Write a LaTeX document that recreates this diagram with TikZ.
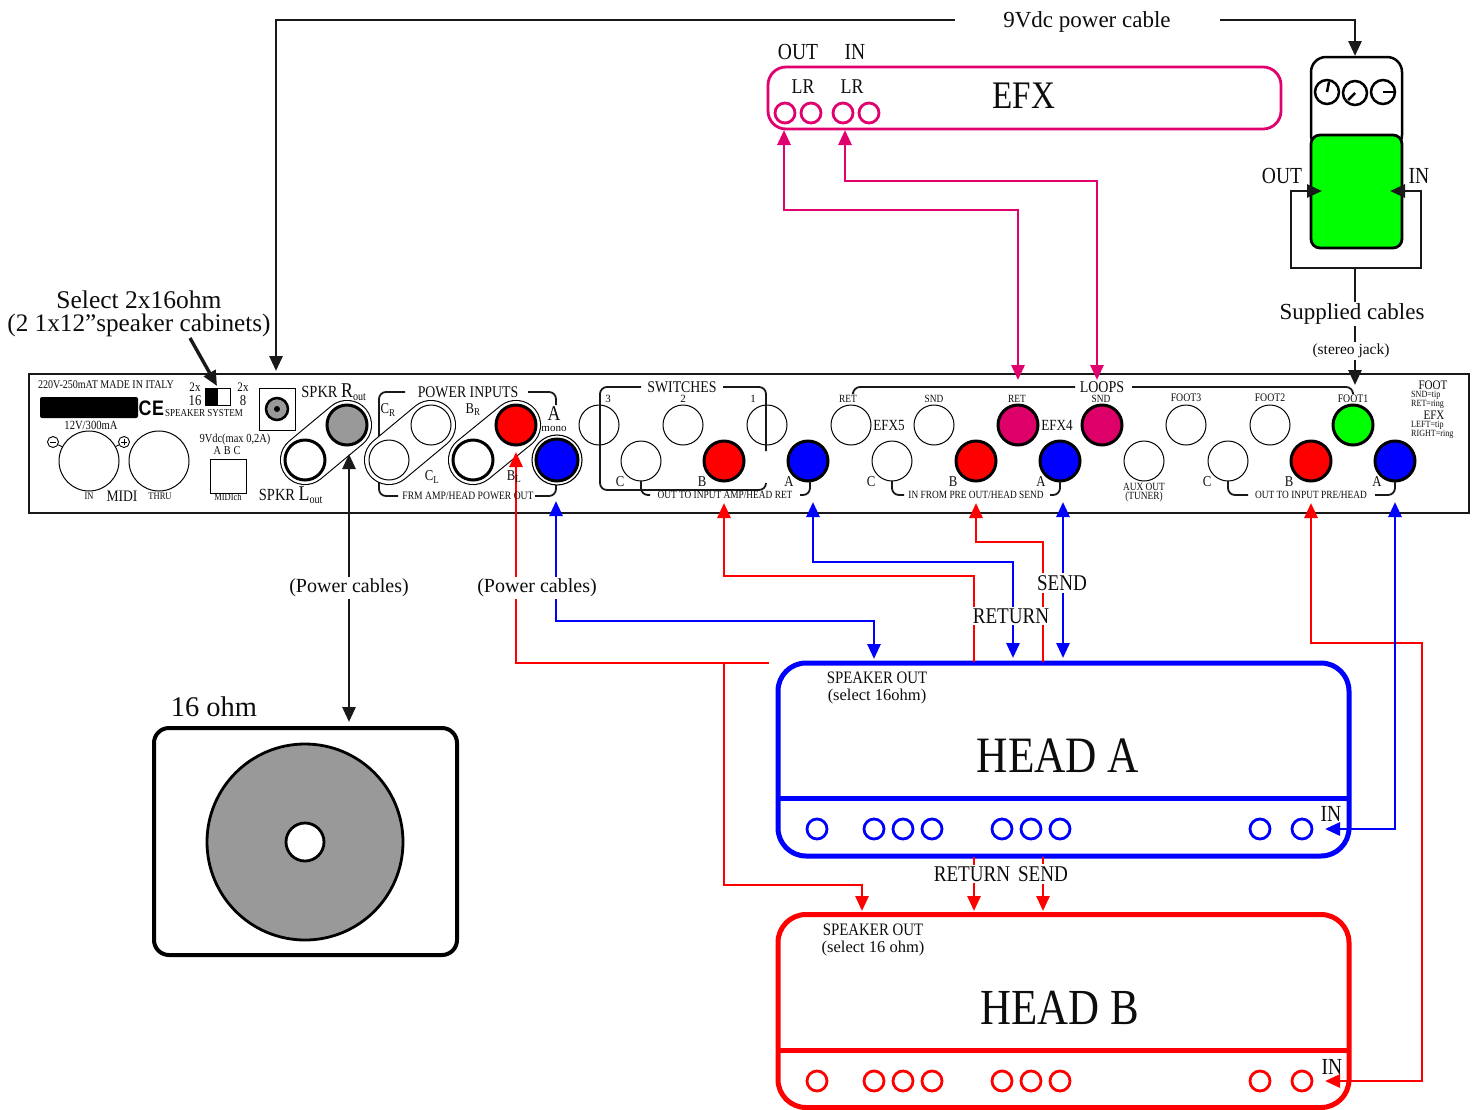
\documentclass[tikz,border=0pt]{standalone}
\usepackage{fontspec}
\setmainfont{Liberation Serif}
\newfontfamily\condfont[FakeStretch=0.85]{Liberation Serif}
\newfontfamily\condsans[FakeStretch=0.85]{Liberation Sans}
\usepackage{tikz}
\usetikzlibrary{arrows.meta}

\definecolor{efxpink}{RGB}{224,0,110}
\definecolor{jackpink}{RGB}{220,0,104}
\definecolor{speakergray}{RGB}{153,153,153}

\begin{document}
\begin{tikzpicture}[x=1pt,y=-1pt]
\tikzset{>={Triangle[length=15pt,width=13pt]}}
\tikzset{txt/.style={font=\fontsize{#1}{#1}\selectfont,inner sep=0pt,text=black!95}}
\tikzset{ctxt/.style={font=\condfont\fontsize{#1}{#1}\selectfont,inner sep=0pt,text=black!95}}
\tikzset{cut/.style={fill=white,inner sep=2pt}}
\tikzset{jack/.style={circle,draw=black,fill=white,line width=1pt,inner sep=0pt,minimum size=40pt}}
\tikzset{hotjack/.style={jack,line width=3pt,fill=#1}}
\tikzset{headjack/.style={circle,draw=#1,fill=white,line width=2.8pt,inner sep=0pt,minimum size=20pt}}
\tikzset{cord/.style={line width=2.8pt,black!90}}
\tikzset{bluecord/.style={line width=2.8pt,blue}}
\tikzset{redcord/.style={line width=2.8pt,red}}
\tikzset{pinkcord/.style={line width=2.8pt,efxpink}}
\tikzset{brace/.style={line width=1.8pt,black!90,rounded corners=7pt}}
\tikzset{pill/.style={line width=1.1pt,double=white,double distance=48pt,line cap=round}}
\tikzset{headbox/.style={draw=#1,rounded corners=28pt,line width=5pt,inner sep=0pt,minimum width=571pt,minimum height=193pt}}
\useasboundingbox (0,0) rectangle (1478,1109);

\draw[line width=2.5pt,black!90] (29,374) rectangle (1469,513);

\coordinate (dcTip) at (276,371);
\coordinate (pwrL) at (955,20);
\coordinate (pwrR) at (1220,20);
\coordinate (pedTop) at (1355,56);
\coordinate (pedJoint) at (1355,268);
\coordinate (pedOut) at (1322,191);
\coordinate (pedIn) at (1390,191);
\coordinate (footTip) at (1355,385);
\coordinate (selTail) at (190,338);
\coordinate (selTip) at (217,386);
\coordinate (cabTop) at (349,722);
\coordinate (spkTip) at (349,454);
\coordinate (efxOut) at (784,130);
\coordinate (efxIn) at (845,130);
\coordinate (loopRet) at (1018,380);
\coordinate (loopSnd) at (1097,380);

\coordinate (mainB) at (516,452);
\coordinate (mainA) at (556,501);
\coordinate (retB) at (724,503);
\coordinate (retA) at (813,502);
\coordinate (sndB) at (976,503);
\coordinate (sndA) at (1063,502);
\coordinate (inB) at (1311,503);
\coordinate (inA) at (1395,502);

\coordinate (aRedOut) at (769,663);
\coordinate (aSpk) at (874,659);
\coordinate (aRedRet) at (974,662);
\coordinate (aRet) at (1013,658);
\coordinate (aRedSnd) at (1043,662);
\coordinate (aSnd) at (1063,658);
\coordinate (aIn) at (1325,829);
\coordinate (abRet) at (974,857);
\coordinate (abSnd) at (1043,857);
\coordinate (bSpk) at (862,911);
\coordinate (bRet) at (974,911);
\coordinate (bSnd) at (1043,911);
\coordinate (bIn) at (1325,1081);
\coordinate (bTap) at (724,663);

\draw[brace] (405,392) -- (379,392) -- (379,496) -- (398,496);
\draw[brace] (528,392) -- (556,392) -- (556,405);
\draw[brace] (535,496) -- (556,496) -- (556,484);

\draw[pill] (305,460) -- (347,425);
\draw[pill] (389,460) -- (431,425);
\draw[pill] (473,460) -- (516,425);
\draw[line width=1.1pt,fill=white] (557,460) circle (25);

\node[jack,line width=3pt,fill=speakergray] (spkR) at (347,425) {};
\node[jack,line width=3pt] (spkL) at (305,460) {};
\node[jack] (pwrCR) at (431,425) {};
\node[jack] (pwrCL) at (389,460) {};
\node[hotjack=red] (pwrBR) at (516,425) {};
\node[jack,line width=3pt] (pwrBL) at (473,460) {};
\node[hotjack=blue,minimum size=42pt] (pwrA) at (557,460) {};

\node[jack] (sw3) at (599,425) {};
\node[jack] (sw2) at (683,425) {};
\node[jack] (sw1) at (767,425) {};
\node[jack] (swC) at (641,461) {};
\node[hotjack=red] (swB) at (724,461) {};
\node[hotjack=blue] (swA) at (808,461) {};

\node[jack] (efx5ret) at (851,425) {};
\node[jack] (efx5snd) at (934,425) {};
\node[hotjack=jackpink] (efx4ret) at (1018,425) {};
\node[hotjack=jackpink] (efx4snd) at (1102,425) {};
\node[jack] (sendC) at (892,461) {};
\node[hotjack=red] (sendB) at (976,461) {};
\node[hotjack=blue] (sendA) at (1060,461) {};

\node[jack] (aux) at (1144,461) {};
\node[jack] (foot3) at (1186,425) {};
\node[jack] (foot2) at (1270,425) {};
\node[hotjack=green] (foot1) at (1353,425) {};
\node[jack] (preC) at (1228,461) {};
\node[hotjack=red] (preB) at (1311,461) {};
\node[hotjack=blue] (preA) at (1395,461) {};

\node[jack,minimum size=60pt] (xlrIn) at (89,461) {};
\node[jack,minimum size=60pt] (xlrThru) at (159,461) {};
\node[circle,draw,line width=0.9pt,inner sep=0pt,minimum size=11pt] (minus) at (53,442) {};
\node[circle,draw,line width=0.9pt,inner sep=0pt,minimum size=11pt] (plus) at (124,442) {};
\draw[line width=0.9pt] (minus) -- (xlrIn);
\draw[line width=0.9pt] (plus) -- (xlrIn);
\draw[line width=0.9pt] (50,442) -- (56,442);
\draw[line width=0.9pt] (121,442) -- (127,442) (124,439) -- (124,445);

\fill[black,rounded corners=2pt] (40,397) rectangle (138,418);
\draw[line width=1pt] (205,388) rectangle (230,405);
\fill[black] (205,388) rectangle (218,405);
\draw[line width=1pt] (259,388) rectangle (295,430);
\draw[line width=2.5pt,fill=speakergray] (277,409) circle (11);
\fill[black] (277,409) circle (3);
\draw[line width=1pt] (210,459) rectangle (246,493);

\draw[brace] (641,387) -- (600,387) -- (600,490) -- (766,490) -- (766,483);
\draw[brace] (723,387) -- (766,387) -- (766,451);
\draw[brace] (641,481) -- (641,495) -- (650,495);
\draw[brace] (800,495) -- (810,495) -- (810,481);
\draw[brace] (892,481) -- (892,495) -- (904,495);
\draw[brace] (1050,495) -- (1060,495) -- (1060,481);
\draw[brace] (1228,481) -- (1228,495) -- (1248,495);
\draw[brace] (1375,495) -- (1395,495) -- (1395,481);
\draw[brace] (853,392) -- (853,387) -- (1075,387);
\draw[brace] (1132,387) -- (1353,387) -- (1353,392);

\node[draw=efxpink,rounded corners=18pt,line width=2.8pt,inner sep=0pt,minimum width=513pt,minimum height=62pt] (efx) at (1024.5,98) {};
\node[headjack=efxpink] (efxL1) at (785,113) {};
\node[headjack=efxpink] (efxR1) at (811,113) {};
\node[headjack=efxpink] (efxL2) at (843,113) {};
\node[headjack=efxpink] (efxR2) at (869,113) {};

\draw[line width=2.5pt,rounded corners=15pt,fill=white] (1311,150) -- (1311,57) -- (1402,57) -- (1402,150) -- cycle;
\node[draw,fill=green,rounded corners=9pt,line width=2.8pt,inner sep=0pt,minimum width=91pt,minimum height=113pt] (pedal) at (1356.5,191.5) {};
\node[circle,draw,line width=2.5pt,inner sep=0pt,minimum size=24pt] (knobA) at (1327,92) {};
\node[circle,draw,line width=2.5pt,inner sep=0pt,minimum size=24pt] (knobB) at (1355,93) {};
\node[circle,draw,line width=2.5pt,inner sep=0pt,minimum size=24pt] (knobC) at (1383,92) {};
\draw[line width=2.5pt] (knobA.center) -- (1329,82);
\draw[line width=2.5pt] (knobB.center) -- (1348,100);
\draw[line width=2.5pt] (knobC.center) -- (knobC.east);

\node[headbox=blue] (headA) at (1063.5,759.5) {};
\draw[line width=5pt,blue] (778,798) -- (1349,798);
\node[headjack=blue] (a1) at (817,829) {};
\node[headjack=blue] (a2) at (874,829) {};
\node[headjack=blue] (a3) at (903,829) {};
\node[headjack=blue] (a4) at (932,829) {};
\node[headjack=blue] (a5) at (1002,829) {};
\node[headjack=blue] (a6) at (1031,829) {};
\node[headjack=blue] (a7) at (1060,829) {};
\node[headjack=blue] (a8) at (1260,829) {};
\node[headjack=blue] (a9) at (1302,829) {};

\node[headbox=red] (headB) at (1063.5,1011) {};
\draw[line width=5pt,red] (778,1050) -- (1349,1050);
\node[headjack=red] (b1) at (817,1081) {};
\node[headjack=red] (b2) at (874,1081) {};
\node[headjack=red] (b3) at (903,1081) {};
\node[headjack=red] (b4) at (932,1081) {};
\node[headjack=red] (b5) at (1002,1081) {};
\node[headjack=red] (b6) at (1031,1081) {};
\node[headjack=red] (b7) at (1060,1081) {};
\node[headjack=red] (b8) at (1260,1081) {};
\node[headjack=red] (b9) at (1302,1081) {};

\node[draw,rounded corners=15pt,line width=4pt,inner sep=0pt,minimum width=303pt,minimum height=227pt] (cab) at (305.5,841.5) {};
\node[circle,draw,fill=speakergray,line width=2.8pt,inner sep=0pt,minimum size=196pt] (cone) at (305,842) {};
\node[circle,draw,fill=white,line width=2.8pt,inner sep=0pt,minimum size=38pt] (hub) at (305,842) {};

\draw[cord,->] (pwrL) -| (dcTip);
\draw[cord,->] (pwrR) -| (pedTop);
\draw[cord,->] (pedJoint) -- (1291,268) |- (pedOut);
\draw[cord,->] (pedJoint) -- (1421,268) |- (pedIn);
\draw[cord,->] (pedJoint) -- (footTip);
\draw[line width=3.4pt,black!90,->] (selTail) -- (selTip);
\draw[cord,<->] (cabTop) -- (spkTip);
\draw[pinkcord,<->] (loopRet) |- (784,210) -- (efxOut);
\draw[pinkcord,<->] (loopSnd) |- (845,181) -- (efxIn);
\draw[redcord,->] (aRedOut) -- (516,663) -- (mainB);
\draw[redcord,->] (bTap) |- (862,885) -- (bSpk);
\draw[bluecord,<->] (mainA) |- (874,621) -- (aSpk);
\draw[redcord,->] (aRedRet) |- (724,576) -- (retB);
\draw[bluecord,<->] (retA) |- (1013,562) -- (aRet);
\draw[redcord,->] (aRedSnd) |- (976,542) -- (sndB);
\draw[bluecord,<->] (sndA) -- (aSnd);
\draw[redcord,->] (abRet) -- (bRet);
\draw[redcord,->] (abSnd) -- (bSnd);
\draw[redcord,<->] (inB) |- (1422,643) |- (bIn);
\draw[bluecord,<->] (inA) |- (aIn);

\node[txt=23,cut] (lblPower) at (1087,22) {9Vdc power cable};
\node[ctxt=23] (lblEfxOut) at (798,52) {OUT};
\node[ctxt=23] (lblEfxIn) at (855,52) {IN};
\node[ctxt=21] (lblLR1) at (803,87) {LR};
\node[ctxt=21] (lblLR2) at (852,87) {LR};
\node[ctxt=39] (lblEfx) at (1024,96) {EFX};
\node[ctxt=23] (lblPedOut) at (1282,176) {OUT};
\node[ctxt=23] (lblPedIn) at (1419,176) {IN};
\node[txt=23,cut] (lblSupplied) at (1352,314) {Supplied cables};
\node[txt=15.5,cut] (lblStereo) at (1351,351) {(stereo jack)};
\node[txt=25.5] (lblSelect) at (139,300) {Select 2x16ohm};
\node[txt=25.2] (lblCabs) at (139,325) {(2 1x12”speaker cabinets)};

\node[ctxt=11.8] (lblMade) at (106,385) {220V-250mAT MADE IN ITALY};
\node[font=\condsans\bfseries\fontsize{21}{21}\selectfont,inner sep=0pt] (lblC) at (145,408) {C};
\node[font=\condsans\bfseries\fontsize{21}{21}\selectfont,inner sep=0pt] (lblE) at (158,408) {E};
\node[ctxt=10.6] (lblSystem) at (204,413) {SPEAKER SYSTEM};
\node[ctxt=12.5] (lblVolt) at (91,425) {12V/300mA};
\node[ctxt=13] (lbl2xA) at (195,387) {2x};
\node[ctxt=15] (lbl16) at (195,401) {16};
\node[ctxt=13] (lbl2xB) at (243,387) {2x};
\node[ctxt=15] (lbl8) at (243,401) {8};
\node[ctxt=10] (lblXlrIn) at (89,496) {IN};
\node[ctxt=16] (lblMidi) at (122,496) {MIDI};
\node[ctxt=10] (lblThru) at (160,496) {THRU};
\node[ctxt=12.3] (lbl9V) at (235,440) {9Vdc(max 0,2A)};
\node[ctxt=12] (lblABC) at (227,451) {A\hspace{3pt}B\hspace{3pt}C};
\node[ctxt=10] (lblMidich) at (228,497) {MIDIch};
\node[ctxt=17] (lblSpkR) at (334,392) {SPKR {\fontsize{21}{21}\selectfont R}\textsubscript{out}};
\node[ctxt=17] (lblSpkL) at (291,495) {SPKR {\fontsize{21}{21}\selectfont L}\textsubscript{out}};

\node[ctxt=16.3] (lblPower2) at (468,392) {POWER INPUTS};
\node[ctxt=15] (lblCR) at (388,410) {C\textsubscript{R}};
\node[ctxt=15] (lblBR) at (473,410) {B\textsubscript{R}};
\node[ctxt=15] (lblCL) at (432,477) {C\textsubscript{L}};
\node[ctxt=15] (lblBL) at (514,477) {B\textsubscript{L}};
\node[ctxt=21] (lblMonoA) at (554,414) {A};
\node[txt=11] (lblMono) at (554,429) {mono};
\node[ctxt=11.3] (lblFrm) at (468,496) {FRM AMP/HEAD POWER OUT};

\node[ctxt=16.3] (lblSwitches) at (682,387) {SWITCHES};
\node[txt=11] (lblSw3) at (608,399) {3};
\node[txt=11] (lblSw2) at (683,399) {2};
\node[txt=11] (lblSw1) at (753,399) {1};
\node[ctxt=15] (lblSwC) at (620,482) {C};
\node[ctxt=15] (lblSwB) at (702,482) {B};
\node[ctxt=15] (lblSwA) at (789,482) {A};
\node[ctxt=11] (lblAmpRet) at (725,495) {OUT TO INPUT AMP/HEAD RET};

\node[ctxt=16.5,fill=white,inner sep=1pt] (lblLoops) at (1102,387) {LOOPS};
\node[ctxt=11] (lblRet5) at (848,399) {RET};
\node[ctxt=11] (lblSnd5) at (934,399) {SND};
\node[ctxt=11] (lblRet4) at (1017,399) {RET};
\node[ctxt=11] (lblSnd4) at (1101,399) {SND};
\node[ctxt=15.5] (lblEfx5) at (889,425) {EFX5};
\node[ctxt=15.5] (lblEfx4) at (1057,425) {EFX4};
\node[ctxt=15] (lblSendC) at (871,482) {C};
\node[ctxt=15] (lblSendB) at (953,482) {B};
\node[ctxt=15] (lblSendA) at (1041,482) {A};
\node[ctxt=11] (lblPreOut) at (976,495) {IN FROM PRE OUT/HEAD SEND};

\node[ctxt=11] (lblAux) at (1144,487) {AUX OUT};
\node[ctxt=11] (lblTuner) at (1144,497) {(TUNER)};
\node[ctxt=11.5] (lblFoot3) at (1186,398) {FOOT3};
\node[ctxt=11.5] (lblFoot2) at (1270,398) {FOOT2};
\node[ctxt=11.5] (lblFoot1) at (1353,399) {FOOT1};
\node[ctxt=15] (lblPreC) at (1207,482) {C};
\node[ctxt=15] (lblPreB) at (1289,482) {B};
\node[ctxt=15] (lblPreA) at (1377,482) {A};
\node[ctxt=11] (lblPreHead) at (1311,495) {OUT TO INPUT PRE/HEAD};

\node[ctxt=13] (lblFoot) at (1433,385) {FOOT};
\node[ctxt=9.5,anchor=west] (lblSndTip) at (1411,395) {SND=tip};
\node[ctxt=9.5,anchor=west] (lblRetRing) at (1411,404) {RET=ring};
\node[ctxt=13] (lblEfxNote) at (1434,415) {EFX};
\node[ctxt=9.5,anchor=west] (lblLeft) at (1411,425) {LEFT=tip};
\node[ctxt=9.5,anchor=west] (lblRight) at (1411,434) {RIGHT=ring};

\node[txt=20,cut] (lblCables1) at (349,588) {(Power cables)};
\node[txt=20,cut] (lblCables2) at (537,588) {(Power cables)};
\node[ctxt=22.5,cut] (lblSend) at (1062,583) {SEND};
\node[ctxt=22.5,cut] (lblReturn) at (1011,616) {RETURN};
\node[ctxt=22.5,cut] (lblReturn2) at (972,874) {RETURN};
\node[ctxt=22.5,cut] (lblSend2) at (1043,874) {SEND};

\node[ctxt=17.5] (lblOutA) at (877,678) {SPEAKER OUT};
\node[txt=16.5] (lblSelA) at (877,697) {(select 16ohm)};
\node[ctxt=51] (lblHeadA) at (1058,756) {HEAD A};
\node[ctxt=23] (lblInA) at (1331,814) {IN};
\node[ctxt=17.5] (lblOutB) at (873,930) {SPEAKER OUT};
\node[txt=16.5] (lblSelB) at (873,949) {(select 16 ohm)};
\node[ctxt=50.5] (lblHeadB) at (1060,1008) {HEAD B};
\node[ctxt=23] (lblInB) at (1332,1067) {IN};
\node[txt=28.5] (lblOhm) at (214,707) {16 ohm};
\end{tikzpicture}
\end{document}
